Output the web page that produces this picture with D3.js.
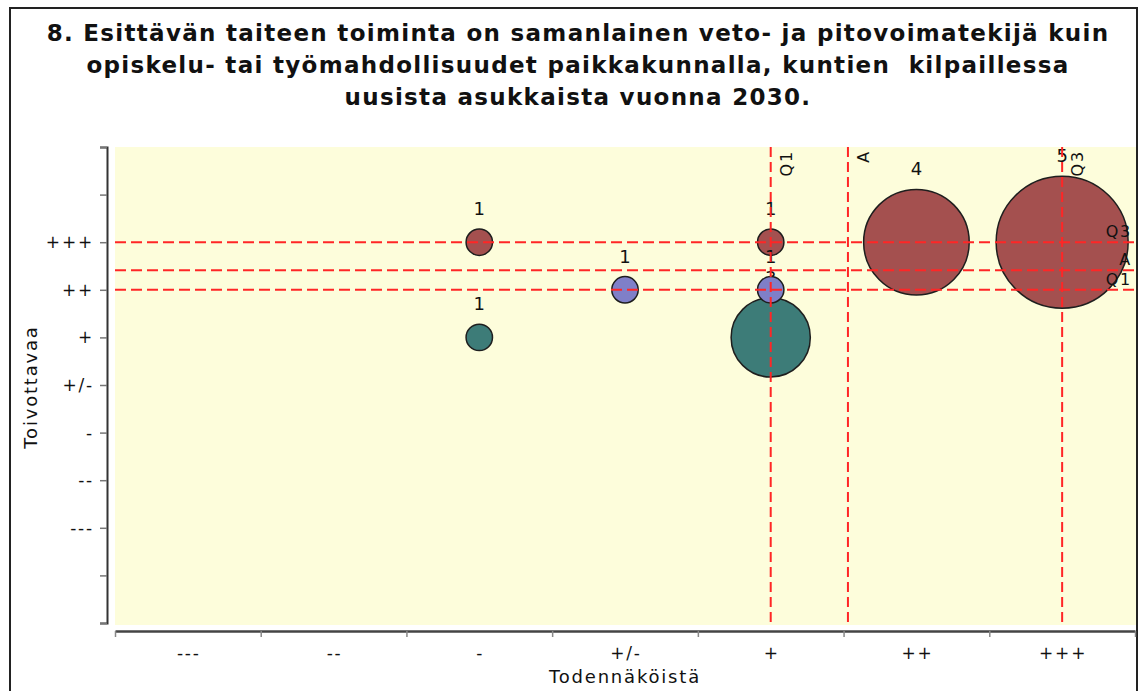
<!DOCTYPE html>
<html>
<head>
<meta charset="utf-8">
<script src="https://cdn.jsdelivr.net/npm/d3@7"></script>
<style>
  body { margin: 0; background: #ffffff; }
  svg { display: block; }
  svg text { letter-spacing: 1.8px; }
  svg text.title { letter-spacing: 1.3px; }
  svg text.digit { letter-spacing: 0; }
</style>
</head>
<body>
<svg id="chart" width="1144" height="691"></svg>
<script>
// category labels, same scale on both axes (1 = "---" ... 7 = "+++")
var categories = ["---", "--", "-", "+/-", "+", "++", "+++"];

// bubbles: [x category, y category, count]
var redPoints  = [["-", "+++", 1], ["+", "+++", 1], ["++", "+++", 4], ["+++", "+++", 5]];
var tealPoints = [["-", "+", 1], ["+", "+", 3]];
var bluePoints = [["+/-", "++", 1], ["+", "++", 1]];

// quartile / average markers (category index units)
var xMarkerNames  = ["Q1", "A", "Q3"];
var xMarkerValues = [5, 5.53, 7];
var yMarkerNames  = ["Q3", "A", "Q1"];
var yMarkerValues = [7, 6.41, 6];

var titleLines = [
    "8. Esittävän taiteen toiminta on samanlainen veto- ja pitovoimatekijä kuin",
    "opiskelu- tai työmahdollisuudet paikkakunnalla, kuntien  kilpaillessa",
    "uusista asukkaista vuonna 2030."
];

var svg = d3.select("#chart");
var font = "DejaVu Sans, Verdana, sans-serif";

//Frame round the whole picture
svg.append("rect")
    .attr("x", 10)
    .attr("y", 8)
    .attr("width", 1127)
    .attr("height", 700)
    .attr("fill", "#ffffff")
    .attr("stroke", "#222222")
    .attr("stroke-width", 2);

//Title
svg.append("g").selectAll("text")
    .data(titleLines)
    .join("text")
    .attr("class", "title")
    .attr("x", 578)
    .attr("y", function(d, i) { return 41 + i * 32; })
    .attr("text-anchor", "middle")
    .attr("font-family", font)
    .attr("font-weight", "bold")
    .attr("font-size", 23)
    .attr("fill", "#111111")
    .style("white-space", "pre")
    .text(function(d) { return d; });

//Scales
var x = d3.scaleLinear().domain([0.5, 7.5]).range([115, 1135]);
var y = d3.scaleLinear().domain([-1, 9]).range([623, 147]);
var r = d3.scaleLinear().domain([0, 5]).range([0, 66]);
var idx = function(c) { return categories.indexOf(c) + 1; };

//Plot background
svg.append("rect")
    .attr("x", x(0.5))
    .attr("y", y(9))
    .attr("width", x(7.5) - x(0.5) + 1)
    .attr("height", y(-1) - y(9) + 2)
    .attr("fill", "#fdfddb");

//Y axis
var yAxis = svg.append("g")
    .attr("transform", "translate(107,0)")
    .call(d3.axisLeft(y)
        .tickValues(d3.range(-1, 10))
        .tickSize(7)
        .tickPadding(6)
        .tickFormat(function(v) { return categories[v - 1] || ""; }));
yAxis.select(".domain").attr("stroke", "#333333").attr("stroke-width", 2);
yAxis.selectAll(".tick line").attr("stroke", "#777777").attr("stroke-width", 1.5);
yAxis.selectAll(".tick text")
    .attr("font-family", font)
    .attr("font-size", 17)
    .attr("fill", "#111111");

//X axis (ticks on category borders, labels in the middle)
var xAxis = svg.append("g")
    .attr("transform", "translate(0,631)")
    .call(d3.axisBottom(x)
        .tickValues(d3.range(0.5, 8, 1))
        .tickSize(6)
        .tickSizeOuter(0)
        .tickFormat(""));
xAxis.select(".domain").attr("stroke", "#444444").attr("stroke-width", 2.5);
xAxis.selectAll(".tick line").attr("stroke", "#888888").attr("stroke-width", 1.5);

svg.append("g").selectAll("text")
    .data(categories)
    .join("text")
    .attr("x", function(d) { return x(idx(d)) + 1; })
    .attr("y", 659)
    .attr("text-anchor", "middle")
    .attr("font-family", font)
    .attr("font-size", 17)
    .attr("fill", "#111111")
    .text(function(d) { return d; });

//Axis titles
svg.append("text")
    .attr("transform", "translate(37,387) rotate(-90)")
    .attr("text-anchor", "middle")
    .attr("font-family", font)
    .attr("font-size", 18)
    .attr("fill", "#111111")
    .text("Toivottavaa");

svg.append("text")
    .attr("x", 625)
    .attr("y", 683)
    .attr("text-anchor", "middle")
    .attr("font-family", font)
    .attr("font-size", 18)
    .attr("fill", "#111111")
    .text("Todennäköistä");

//Bubbles, one group per series, each with its count on top
function drawSeries(points, colour) {
    var g = svg.append("g");
    g.selectAll("circle")
        .data(points)
        .join("circle")
        .attr("cx", function(d) { return x(idx(d[0])); })
        .attr("cy", function(d) { return y(idx(d[1])); })
        .attr("r", function(d) { return r(d[2]); })
        .attr("fill", colour)
        .attr("stroke", "#1e1e1e")
        .attr("stroke-width", 1.5);
    g.selectAll("text")
        .data(points)
        .join("text")
        .attr("class", "digit")
        .attr("x", function(d) { return x(idx(d[0])); })
        .attr("y", function(d) { return y(idx(d[1])) - r(d[2]) - 14; })
        .attr("text-anchor", "middle")
        .attr("font-family", font)
        .attr("font-size", 18)
        .attr("fill", "#111111")
        .text(function(d) { return d[2]; });
}
drawSeries(redPoints, "#a4504f");
drawSeries(tealPoints, "#3d7c78");
drawSeries(bluePoints, "#7f7fc8");

//Marker lines on top of the bubbles
var markers = svg.append("g");
markers.selectAll("line.h")
    .data(yMarkerValues)
    .join("line")
    .attr("class", "h")
    .attr("x1", x(0.5))
    .attr("x2", x(7.5))
    .attr("y1", function(d) { return y(d); })
    .attr("y2", function(d) { return y(d); })
    .attr("stroke", "#ff2626")
    .attr("stroke-width", 2)
    .attr("stroke-dasharray", "11,5");

markers.selectAll("line.v")
    .data(xMarkerValues)
    .join("line")
    .attr("class", "v")
    .attr("x1", function(d) { return x(d); })
    .attr("x2", function(d) { return x(d); })
    .attr("y1", y(9))
    .attr("y2", y(-1) + 2)
    .attr("stroke", "#ff2626")
    .attr("stroke-width", 2)
    .attr("stroke-dasharray", "10,5");

markers.selectAll("text.h")
    .data(yMarkerValues)
    .join("text")
    .attr("class", "h")
    .attr("x", 1132)
    .attr("y", function(d) { return y(d) - 5; })
    .attr("text-anchor", "end")
    .attr("font-family", font)
    .attr("font-size", 16)
    .attr("fill", "#111111")
    .text(function(d, i) { return yMarkerNames[i]; });

markers.selectAll("text.v")
    .data(xMarkerValues)
    .join("text")
    .attr("class", "v")
    .attr("transform", function(d) { return "translate(" + (x(d) + 21) + ",150) rotate(-90)"; })
    .attr("text-anchor", "end")
    .attr("font-family", font)
    .attr("font-size", 16)
    .attr("fill", "#111111")
    .text(function(d, i) { return xMarkerNames[i]; });
</script>
</body>
</html>
